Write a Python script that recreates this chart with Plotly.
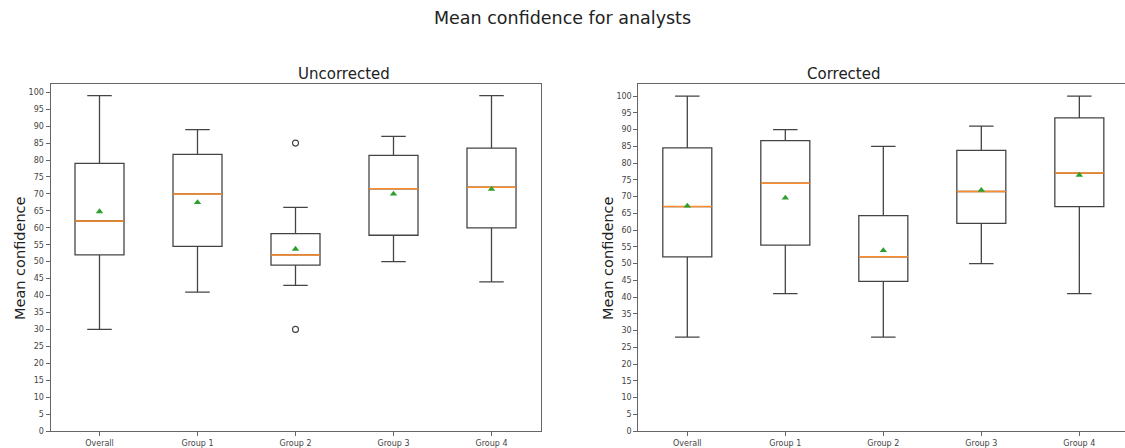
import plotly.graph_objects as go

categories = ["Overall", "Group 1", "Group 2", "Group 3", "Group 4"]
positions = [1, 2, 3, 4, 5]

# Uncorrected
unc_low = [30, 41, 43, 50, 44]
unc_q1 = [52, 54.5, 49, 57.8, 60]
unc_med = [62, 70, 52, 71.5, 72]
unc_q3 = [79, 81.7, 58.3, 81.4, 83.5]
unc_high = [99, 89, 66, 87, 99]
unc_mean = [64.8, 67.5, 53.7, 70.0, 71.4]
unc_flier_x = [3, 3]
unc_flier_y = [85, 30]

# Corrected
cor_low = [28, 41, 28, 50, 41]
cor_q1 = [52, 55.5, 44.7, 62, 67]
cor_med = [67, 74, 52, 71.5, 77]
cor_q3 = [84.5, 86.7, 64.3, 83.8, 93.5]
cor_high = [100, 90, 85, 91, 100]
cor_mean = [67.2, 69.6, 53.9, 71.9, 76.4]

BOX_W = 0.5
LINE_C = "#444444"
MED_C = "#ff8c2a"
MEAN_C = "#2ca02c"
FONT = "DejaVu Sans"

fig = go.Figure()


def add_panel(xa, ya, low, q1, med, q3, high, mean, fx=None, fy=None):
    fig.add_trace(go.Box(
        x=positions, q1=q1, median=med, q3=q3, lowerfence=low, upperfence=high,
        width=BOX_W, whiskerwidth=0.5, fillcolor="rgba(255,255,255,0)",
        line=dict(color=LINE_C, width=1.3), boxpoints=False,
        xaxis=xa, yaxis=ya, showlegend=False, hoverinfo="skip"))
    mx, my = [], []
    for p, m in zip(positions, med):
        mx += [p - BOX_W / 2, p + BOX_W / 2, None]
        my += [m, m, None]
    fig.add_trace(go.Scatter(x=mx, y=my, mode="lines",
                             line=dict(color=MED_C, width=1.5),
                             xaxis=xa, yaxis=ya, showlegend=False, hoverinfo="skip"))
    fig.add_trace(go.Scatter(x=positions, y=mean, mode="markers",
                             marker=dict(symbol="triangle-up", size=6.5, color=MEAN_C),
                             xaxis=xa, yaxis=ya, showlegend=False, hoverinfo="skip"))
    if fx:
        fig.add_trace(go.Scatter(x=fx, y=fy, mode="markers",
                                 marker=dict(symbol="circle-open", size=6,
                                             color=LINE_C, line=dict(width=1.1)),
                                 xaxis=xa, yaxis=ya, showlegend=False, hoverinfo="skip"))


add_panel("x", "y", unc_low, unc_q1, unc_med, unc_q3, unc_high, unc_mean,
          unc_flier_x, unc_flier_y)
add_panel("x2", "y2", cor_low, cor_q1, cor_med, cor_q3, cor_high, cor_mean)

W, H = 1125, 448
T, B = 84, 15
axis_common = dict(showgrid=False, zeroline=False, showline=True, linecolor="#666",
                   linewidth=1, ticks="outside", ticklen=4, tickcolor="#666",
                   tickfont=dict(family=FONT, size=8, color="#444"))

fig.update_layout(
    width=W, height=H,
    margin=dict(l=0, r=0, t=T, b=B),
    paper_bgcolor="white", plot_bgcolor="white",
    font=dict(family=FONT),
    xaxis=dict(domain=[50.5 / W, 540.5 / W], range=[0.5, 5.5], tickvals=positions,
               ticktext=categories, mirror=True, **axis_common),
    yaxis=dict(range=[0, 102.45], dtick=5, tick0=0, mirror=True, **axis_common),
    xaxis2=dict(domain=[638.3 / W, 1.0], range=[0.5, 5.466], tickvals=positions,
                ticktext=categories, mirror=True, anchor="y2", **axis_common),
    yaxis2=dict(range=[0, 103.6], dtick=5, tick0=0, anchor="x2", mirror=False,
                **axis_common),
)

plot_h = H - T - B


def py(pix):
    return (H - B - pix) / plot_h


def px(pix):
    return pix / W


title_font = dict(family=FONT, size=17.5, color="#222")
sub_font = dict(family=FONT, size=15, color="#222")
lab_font = dict(family=FONT, size=14.5, color="#222")

fig.add_annotation(text="Mean confidence for analysts", x=0.5, y=py(18), xref="paper",
                   yref="paper", showarrow=False, yanchor="middle", font=title_font)
fig.add_annotation(text="Uncorrected", x=px((50.5 + 540.5) / 2), y=py(74), xref="paper",
                   yref="paper", showarrow=False, yanchor="middle", font=sub_font)
fig.add_annotation(text="Corrected", x=px((638.3 + 1128.3) / 2), y=py(74), xref="paper",
                   yref="paper", showarrow=False, yanchor="middle", font=sub_font)
fig.add_annotation(text="Mean confidence", x=px(20), y=py(259), xref="paper",
                   yref="paper", showarrow=False, textangle=-90, xanchor="center",
                   yanchor="middle", font=lab_font)
fig.add_annotation(text="Mean confidence", x=px(608), y=py(259), xref="paper",
                   yref="paper", showarrow=False, textangle=-90, xanchor="center",
                   yanchor="middle", font=lab_font)

fig.write_html("out.html", config={"displayModeBar": False})
